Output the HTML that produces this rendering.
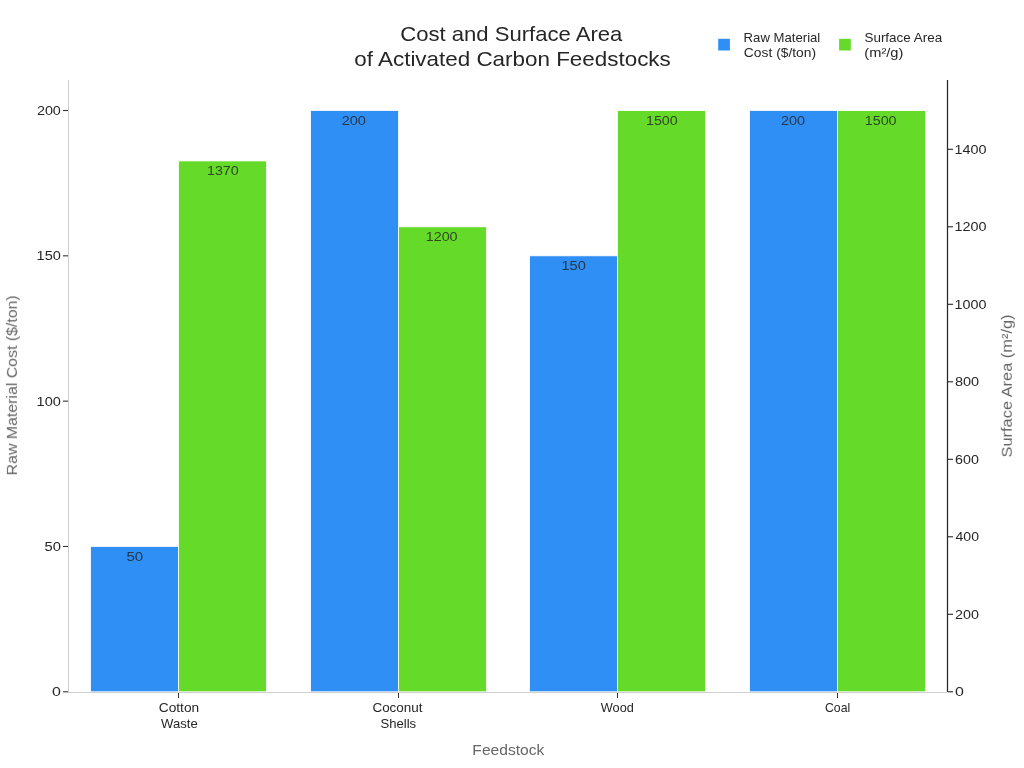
<!DOCTYPE html>
<html><head><meta charset="utf-8"><style>
html,body{margin:0;padding:0;background:#fff;width:1024px;height:768px;overflow:hidden}
svg{display:block;font-family:"Liberation Sans", sans-serif}
text{will-change:transform}
</style></head><body>
<svg width="1024" height="768" viewBox="0 0 1024 768">
<rect width="1024" height="768" fill="#fff"/>
<rect x="90.60" y="546.47" width="87.90" height="145.33" fill="#2f8ff5" stroke="#fff" stroke-width="0.8"/>
<rect x="178.50" y="160.92" width="87.90" height="530.88" fill="#66da28" stroke="#fff" stroke-width="0.8"/>
<rect x="310.60" y="110.50" width="87.90" height="581.30" fill="#2f8ff5" stroke="#fff" stroke-width="0.8"/>
<rect x="398.50" y="226.80" width="87.90" height="465.00" fill="#66da28" stroke="#fff" stroke-width="0.8"/>
<rect x="529.60" y="255.82" width="87.90" height="435.97" fill="#2f8ff5" stroke="#fff" stroke-width="0.8"/>
<rect x="617.50" y="110.55" width="87.90" height="581.25" fill="#66da28" stroke="#fff" stroke-width="0.8"/>
<rect x="749.60" y="110.50" width="87.90" height="581.30" fill="#2f8ff5" stroke="#fff" stroke-width="0.8"/>
<rect x="837.50" y="110.55" width="87.90" height="581.25" fill="#66da28" stroke="#fff" stroke-width="0.8"/>
<line x1="68.5" y1="80" x2="68.5" y2="693" stroke="#d0d0d0" stroke-width="1"/>
<line x1="68" y1="692.5" x2="947" y2="692.5" stroke="#d0d0d0" stroke-width="1"/>
<line x1="947.5" y1="80" x2="947.5" y2="692" stroke="#262626" stroke-width="1.25"/>
<line x1="63" y1="691.80" x2="68" y2="691.80" stroke="#333" stroke-width="1.1"/>
<text x="51.998" y="696.25" font-size="12.1" fill="#262626" textLength="8.884" lengthAdjust="spacingAndGlyphs">0</text>
<line x1="63" y1="546.47" x2="68" y2="546.47" stroke="#333" stroke-width="1.1"/>
<text x="44.450" y="550.92" font-size="12.1" fill="#262626" textLength="16.398" lengthAdjust="spacingAndGlyphs">50</text>
<line x1="63" y1="401.15" x2="68" y2="401.15" stroke="#333" stroke-width="1.1"/>
<text x="36.607" y="405.60" font-size="12.1" fill="#262626" textLength="24.246" lengthAdjust="spacingAndGlyphs">100</text>
<line x1="63" y1="255.82" x2="68" y2="255.82" stroke="#333" stroke-width="1.1"/>
<text x="36.607" y="260.27" font-size="12.1" fill="#262626" textLength="24.246" lengthAdjust="spacingAndGlyphs">150</text>
<line x1="63" y1="110.50" x2="68" y2="110.50" stroke="#333" stroke-width="1.1"/>
<text x="36.933" y="114.95" font-size="12.1" fill="#262626" textLength="23.936" lengthAdjust="spacingAndGlyphs">200</text>
<line x1="948" y1="691.80" x2="953" y2="691.80" stroke="#262626" stroke-width="1.1"/>
<text x="955.063" y="696.25" font-size="12.1" fill="#262626" textLength="8.908" lengthAdjust="spacingAndGlyphs">0</text>
<line x1="948" y1="614.30" x2="953" y2="614.30" stroke="#262626" stroke-width="1.1"/>
<text x="955.017" y="618.75" font-size="12.1" fill="#262626" textLength="23.879" lengthAdjust="spacingAndGlyphs">200</text>
<line x1="948" y1="536.80" x2="953" y2="536.80" stroke="#262626" stroke-width="1.1"/>
<text x="955.506" y="541.25" font-size="12.1" fill="#262626" textLength="23.456" lengthAdjust="spacingAndGlyphs">400</text>
<line x1="948" y1="459.30" x2="953" y2="459.30" stroke="#262626" stroke-width="1.1"/>
<text x="955.001" y="463.75" font-size="12.1" fill="#262626" textLength="23.896" lengthAdjust="spacingAndGlyphs">600</text>
<line x1="948" y1="381.80" x2="953" y2="381.80" stroke="#262626" stroke-width="1.1"/>
<text x="954.927" y="386.25" font-size="12.1" fill="#262626" textLength="24.190" lengthAdjust="spacingAndGlyphs">800</text>
<line x1="948" y1="304.30" x2="953" y2="304.30" stroke="#262626" stroke-width="1.1"/>
<text x="954.510" y="308.75" font-size="12.1" fill="#262626" textLength="31.959" lengthAdjust="spacingAndGlyphs">1000</text>
<line x1="948" y1="226.80" x2="953" y2="226.80" stroke="#262626" stroke-width="1.1"/>
<text x="954.510" y="231.25" font-size="12.1" fill="#262626" textLength="31.959" lengthAdjust="spacingAndGlyphs">1200</text>
<line x1="948" y1="149.30" x2="953" y2="149.30" stroke="#262626" stroke-width="1.1"/>
<text x="954.510" y="153.75" font-size="12.1" fill="#262626" textLength="31.959" lengthAdjust="spacingAndGlyphs">1400</text>
<line x1="178.50" y1="693" x2="178.50" y2="698" stroke="#333" stroke-width="1"/>
<line x1="398.50" y1="693" x2="398.50" y2="698" stroke="#333" stroke-width="1"/>
<line x1="617.50" y1="693" x2="617.50" y2="698" stroke="#333" stroke-width="1"/>
<line x1="837.50" y1="693" x2="837.50" y2="698" stroke="#333" stroke-width="1"/>
<text x="158.751" y="712.00" font-size="12.1" fill="#262626" textLength="40.444" lengthAdjust="spacingAndGlyphs">Cotton</text>
<text x="161.129" y="727.80" font-size="12.1" fill="#262626" textLength="36.644" lengthAdjust="spacingAndGlyphs">Waste</text>
<text x="372.414" y="712.00" font-size="12.1" fill="#262626" textLength="50.175" lengthAdjust="spacingAndGlyphs">Coconut</text>
<text x="380.483" y="727.80" font-size="12.1" fill="#262626" textLength="35.727" lengthAdjust="spacingAndGlyphs">Shells</text>
<text x="600.855" y="712.00" font-size="12.1" fill="#262626" textLength="32.998" lengthAdjust="spacingAndGlyphs">Wood</text>
<text x="824.972" y="712.00" font-size="12.1" fill="#262626" textLength="25.201" lengthAdjust="spacingAndGlyphs">Coal</text>
<text x="126.429" y="560.70" font-size="12.1" fill="#222" fill-opacity="0.8" textLength="16.747" lengthAdjust="spacingAndGlyphs">50</text>
<text x="206.970" y="174.80" font-size="12.1" fill="#222" fill-opacity="0.8" textLength="31.773" lengthAdjust="spacingAndGlyphs">1370</text>
<text x="341.689" y="124.80" font-size="12.1" fill="#222" fill-opacity="0.8" textLength="24.184" lengthAdjust="spacingAndGlyphs">200</text>
<text x="425.699" y="241.00" font-size="12.1" fill="#222" fill-opacity="0.8" textLength="31.912" lengthAdjust="spacingAndGlyphs">1200</text>
<text x="561.392" y="270.00" font-size="12.1" fill="#222" fill-opacity="0.8" textLength="24.420" lengthAdjust="spacingAndGlyphs">150</text>
<text x="645.970" y="124.80" font-size="12.1" fill="#222" fill-opacity="0.8" textLength="31.773" lengthAdjust="spacingAndGlyphs">1500</text>
<text x="781.026" y="124.80" font-size="12.1" fill="#222" fill-opacity="0.8" textLength="24.160" lengthAdjust="spacingAndGlyphs">200</text>
<text x="864.699" y="124.80" font-size="12.1" fill="#222" fill-opacity="0.8" textLength="31.912" lengthAdjust="spacingAndGlyphs">1500</text>
<text x="400.216" y="40.60" font-size="20.3" fill="#262626" textLength="222.191" lengthAdjust="spacingAndGlyphs">Cost and Surface Area</text>
<text x="354.322" y="66.30" font-size="20.3" fill="#262626" textLength="316.476" lengthAdjust="spacingAndGlyphs">of Activated Carbon Feedstocks</text>
<rect x="718.2" y="38.8" width="11.7" height="11.7" fill="#2f8ff5"/>
<rect x="839.1" y="38.8" width="11.7" height="11.7" fill="#66da28"/>
<text x="743.633" y="41.80" font-size="12.1" fill="#262626" textLength="76.670" lengthAdjust="spacingAndGlyphs">Raw Material</text>
<text x="743.885" y="56.60" font-size="12.1" fill="#262626" textLength="72.200" lengthAdjust="spacingAndGlyphs">Cost ($/ton)</text>
<text x="864.445" y="41.80" font-size="12.1" fill="#262626" textLength="77.706" lengthAdjust="spacingAndGlyphs">Surface Area</text>
<text x="864.346" y="56.60" font-size="12.1" fill="#262626" textLength="38.954" lengthAdjust="spacingAndGlyphs">(m²/g)</text>
<text x="472.354" y="755.10" font-size="14.2" fill="#666" textLength="72.066" lengthAdjust="spacingAndGlyphs">Feedstock</text>
<g transform="translate(16.90 474.20) rotate(-90)"><text x="-1.176" y="0" font-size="14.2" fill="#666" textLength="180.037" lengthAdjust="spacingAndGlyphs">Raw Material Cost ($/ton)</text></g>
<g transform="translate(1011.80 456.00) rotate(-90)"><text x="-1.494" y="0" font-size="14.2" fill="#666" textLength="143.013" lengthAdjust="spacingAndGlyphs">Surface Area (m²/g)</text></g>
</svg>
</body></html>
